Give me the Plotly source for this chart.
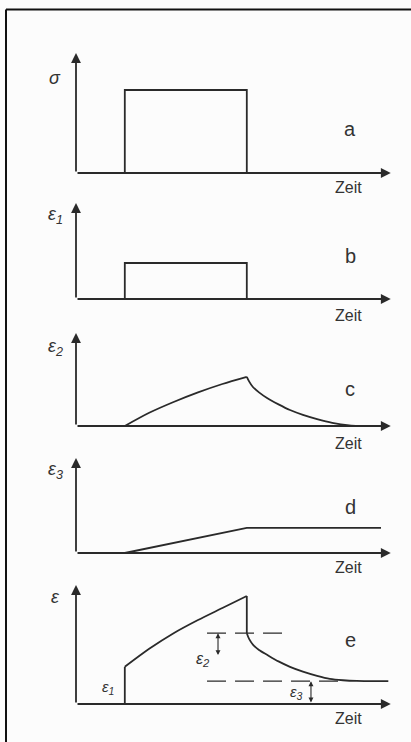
import plotly.graph_objects as go

# ---------------- data (time in arbitrary units, load on at t=2, off at t=7) ----------------
t_step = [2, 2, 7, 7]
sigma_a = [0, 1, 1, 0]
eps1_b = [0, 3, 3, 0]

t_rise = [2, 3, 4, 5, 6, 7]
eps2_rise = [0, 1.1, 2.0, 2.8, 3.5, 4.1]
t_decay_c = [7, 7.1, 7.25, 7.5, 7.83, 8.3, 8.77, 9.3, 9.88, 10.5, 11.2, 11.6]
eps2_decay = [4.1, 3.7, 3.25, 2.8, 2.33, 1.8, 1.33, 0.93, 0.58, 0.27, 0.05, 0]

t_d = [2, 7, 12.5]
eps3_d = [0, 2.1, 2.1]

t_jump = [2, 2]
eps_jump = [0, 3.1]
eps_rise = [3.1, 4.6, 5.9, 7.0, 8.0, 9.0]
t_drop = [7, 7]
eps_drop = [9.0, 5.9]
t_decay_e = [7, 7.1, 7.25, 7.5, 7.83, 8.3, 8.77, 9.3, 9.88, 10.4, 10.94, 11.5, 12.8]
eps_decay = [5.9, 5.4, 4.95, 4.5, 4.1, 3.55, 3.1, 2.7, 2.35, 2.1, 1.98, 1.92, 1.9]

t_dash_hi = [5.37, 8.57]
eps_dash_hi = [5.9, 5.9]
t_dash_lo = [5.37, 11.1]
eps_dash_lo = [1.9, 1.9]

t_axis_end = 12.9
panel_letters = ["a", "b", "c", "d", "e"]
y_labels = ["σ", "ε<sub>1</sub>", "ε<sub>2</sub>", "ε<sub>3</sub>", "ε"]
x_label = "Zeit"

# ---------------- layout geometry (pixels) ----------------
W, H = 411, 742
X0, PX_PER_T = 76, 24.4
baselines = [173, 299, 426, 553, 704]
scales = [83, 12, 12, 12, 12]
tops_px = [53, 203, 333, 458, 585]
INK = "#2a2a2a"
LW = 1.8

fig = go.Figure()
yname = ["y", "y2", "y3", "y4", "y5"]


def add(t, v, i, shape="linear", dash="solid", width=LW):
    fig.add_trace(go.Scatter(x=t, y=v, xaxis="x", yaxis=yname[i], mode="lines",
                             line=dict(color=INK, width=width, shape=shape, dash=dash,
                                       smoothing=0.8),
                             hoverinfo="skip", showlegend=False))


add(t_step, sigma_a, 0)
add(t_step, eps1_b, 1)
add(t_rise, eps2_rise, 2, "spline")
add(t_decay_c, eps2_decay, 2, "spline")
add(t_d, eps3_d, 3)
add(t_jump, eps_jump, 4)
add(t_rise, eps_rise, 4, "spline")
add(t_drop, eps_drop, 4)
add(t_decay_e, eps_decay, 4, "spline")
add(t_dash_hi, eps_dash_hi, 4, dash="19px,9px", width=1.3)
add(t_dash_lo, eps_dash_lo, 4, dash="19px,9px", width=1.3)

annotations = []


def arrow(i, x0, y0, x1, y1, head=2, size=1.1, width=LW, sides="end"):
    annotations.append(dict(xref="x", yref=yname[i], axref="x", ayref=yname[i],
                            x=x1, y=y1, ax=x0, ay=y0, text="", showarrow=True,
                            arrowhead=head, startarrowhead=head, arrowsize=size,
                            startarrowsize=size, arrowwidth=width,
                            arrowcolor=INK, arrowside=sides, standoff=0, startstandoff=0))


def txt(x, y, s, size, italic=False, xanchor="center"):
    annotations.append(dict(xref="paper", yref="paper", x=x / W, y=1 - y / H, text=s,
                            showarrow=False, xanchor=xanchor, yanchor="middle",
                            font=dict(family="Liberation Sans, Arial, sans-serif",
                                      size=size, color="#333333",
                                      style="italic" if italic else "normal")))


layout_axes = {}
for i in range(5):
    yb, s = baselines[i], scales[i]
    key = "yaxis" if i == 0 else f"yaxis{i + 1}"
    ax = dict(domain=[0, 1], range=[(yb - H) / s, yb / s], visible=False, fixedrange=True)
    if i > 0:
        ax["overlaying"] = "y"
    layout_axes[key] = ax
    top_val = (yb - tops_px[i]) / s
    arrow(i, 0, 0, t_axis_end, 0)         # time axis
    arrow(i, 0, 0, 0, top_val)            # value axis

# bracket arrows in panel e
arrow(4, 5.82, 3.95, 5.82, 5.9, head=2, size=0.9, width=1.1, sides="end+start")
arrow(4, 9.63, 0, 9.63, 1.9, head=2, size=0.9, width=1.1, sides="end+start")

# labels
label_y = [78, 215, 347, 470, 597]
letter_y = [129, 256, 389, 507, 640]
zeit_y = [188, 315, 443, 567, 718]
for i in range(5):
    txt(55, label_y[i], y_labels[i], 18, italic=True)
    txt(350, letter_y[i], panel_letters[i], 20)
    txt(364, zeit_y[i], x_label, 16, xanchor="right")

txt(108, 687, "ε<sub>1</sub>", 15, italic=True)
txt(203, 659, "ε<sub>2</sub>", 16, italic=True)
txt(296, 692, "ε<sub>3</sub>", 15, italic=True)

shapes = [
    dict(type="line", xref="paper", yref="paper", x0=6 / W, x1=1, y0=1 - 9.5 / H, y1=1 - 9.5 / H,
         line=dict(color="#111111", width=2)),
    dict(type="line", xref="paper", yref="paper", x0=6 / W, x1=6 / W, y0=1 - 9.5 / H, y1=0,
         line=dict(color="#111111", width=2)),
]

fig.update_layout(
    width=W, height=H, margin=dict(l=0, r=0, t=0, b=0),
    paper_bgcolor="#fcfcfc", plot_bgcolor="rgba(0,0,0,0)",
    xaxis=dict(domain=[0, 1], range=[-X0 / PX_PER_T, (W - X0) / PX_PER_T], visible=False,
               fixedrange=True),
    annotations=annotations, shapes=shapes, showlegend=False,
    **layout_axes,
)

fig.write_html("out.html", config={"displayModeBar": False})
